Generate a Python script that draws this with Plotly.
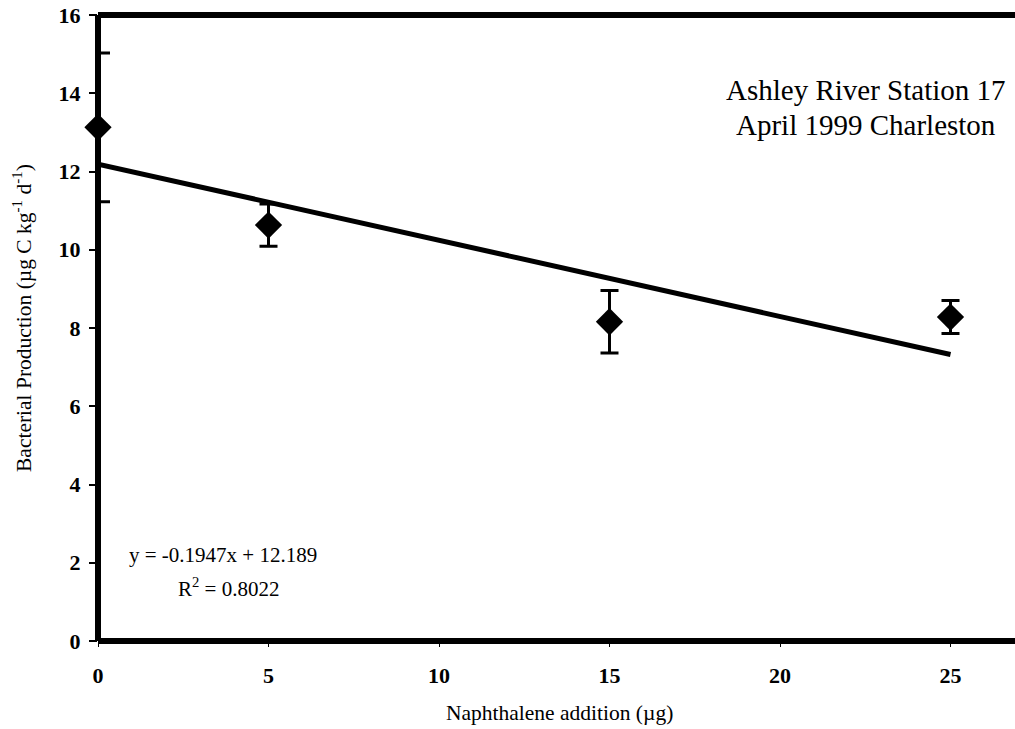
import plotly.graph_objects as go
import numpy as np

# Data
naphthalene = [0, 5, 15, 25]
production = [13.13, 10.63, 8.16, 8.28]
error = [1.9, 0.54, 0.8, 0.42]
slope = -0.1947
intercept = 12.189
x_ticks = [0, 5, 10, 15, 20, 25]
y_ticks = [0, 2, 4, 6, 8, 10, 12, 14, 16]

W, H = 1015, 729
L, T, B = 98, 15, 88
FONT = "Liberation Serif"
PW, PH = W - L, H - B - T


def px(xp):
    return (xp - L) / PW


def py(yp):
    return ((H - B) - yp) / PH


trend_x = np.array([min(naphthalene), max(naphthalene)])
trend_y = slope * trend_x + intercept

fig = go.Figure()
fig.add_trace(go.Scatter(
    x=trend_x, y=trend_y, mode="lines",
    line=dict(color="black", width=5), hoverinfo="skip", showlegend=False,
    cliponaxis=False,
))
# first point has wider error-bar caps in the reference
for sl, cap in [(slice(0, 1), 12), (slice(1, None), 9)]:
    fig.add_trace(go.Scatter(
        x=naphthalene[sl], y=production[sl], mode="markers",
        marker=dict(symbol="diamond", size=21, color="black"),
        error_y=dict(type="data", array=error[sl], visible=True, color="black",
                     thickness=3, width=cap),
        showlegend=False, cliponaxis=False,
    ))

# Frame lines centred on the plot edges (left, bottom, top)
for x0, y0, x1, y1 in [(0, 0, 0, 1), (0, 0, 1, 0), (0, 1, 1, 1)]:
    fig.add_shape(type="line", xref="paper", yref="paper",
                  x0=x0, y0=y0, x1=x1, y1=y1,
                  line=dict(color="black", width=6), layer="above")


def note(text, xp, yp, size, angle=0):
    fig.add_annotation(xref="paper", yref="paper", x=px(xp), y=py(yp),
                       xanchor="center", yanchor="middle", text=text,
                       showarrow=False, textangle=angle,
                       font=dict(family=FONT, size=size, color="black"))


note("Ashley River Station 17", 866, 90, 29)
note("April 1999 Charleston", 866, 125, 29)
note("y = -0.1947x + 12.189", 223, 555, 21)
note("R<sup>2</sup> = 0.8022", 228, 587, 21)
note("Naphthalene addition (µg)", 559, 713, 21.5)
note("Bacterial Production (µg C kg<sup>-1</sup> d<sup>-1</sup>)", 22, 318, 21.5, angle=-90)

fig.update_xaxes(range=[0, PW / 34.1], tickvals=x_ticks, showgrid=False,
                 zeroline=False, showline=False, ticks="outside", ticklen=5,
                 tickwidth=1, tickcolor="black", ticklabelstandoff=10,
                 tickfont=dict(family=FONT, size=22, color="black", weight="bold"))
fig.update_yaxes(range=[0, 16], tickvals=y_ticks, showgrid=False,
                 zeroline=False, showline=False, ticks="outside", ticklen=8,
                 tickwidth=2, tickcolor="black", ticklabelstandoff=4,
                 tickfont=dict(family=FONT, size=22, color="black", weight="bold"))

fig.update_layout(width=W, height=H, margin=dict(l=L, r=0, t=T, b=B),
                  plot_bgcolor="white", paper_bgcolor="white")
fig.write_html("out.html")
